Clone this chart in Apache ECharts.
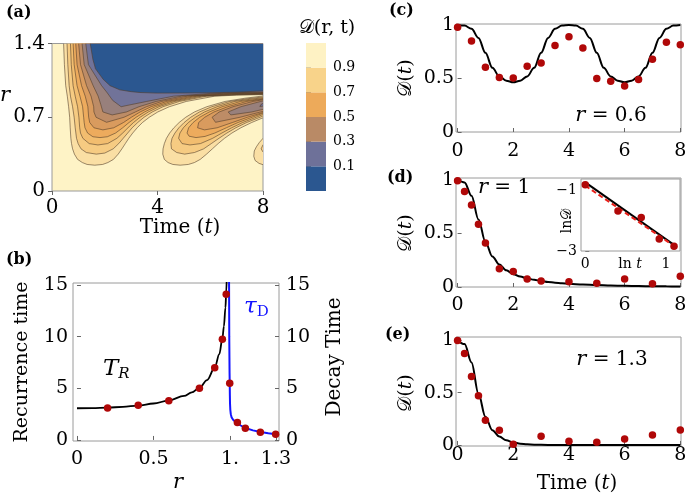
<!DOCTYPE html>
<html><head><meta charset="utf-8">
<script src="https://cdn.jsdelivr.net/npm/echarts@6/dist/echarts.min.js"></script>
<style>html,body{margin:0;padding:0;background:#fff}#c{width:685px;height:500px}</style>
</head><body><div id="c"></div>
<script>
// ---------------- DATA ----------------
// (a) contour plot D(r,t): contour lines, as [t, r] points
const contourLevels = [0.9, 0.8, 0.7, 0.6, 0.5, 0.4, 0.3, 0.2, 0.1];
const bandColors = ['#FADFA4', '#F6CB82', '#F2BD6F', '#EDAB5D', '#D99B5E', '#BD8C66', '#98807C', '#717399', '#2B5790'];
const plotBackground = '#FEF3C6';
// lobe 1 (joined to the decay region at large r): from top edge, down, around, then to the right edge
const lobe1_09 = [[0.44,1.4],[0.47,1.2],[0.52,1.0],[0.58,0.9],[0.63,0.8],[0.67,0.7],[0.69,0.6],[0.715,0.5],[0.74,0.45],[0.78,0.4],[0.85,0.35],[0.97,0.3],[1.15,0.27],[1.33,0.252],[1.62,0.245],[1.92,0.252],[2.12,0.27],[2.33,0.3],[2.51,0.35],[2.65,0.4],[2.78,0.45],[2.91,0.5],[3.06,0.55],[3.23,0.6],[3.43,0.65],[3.69,0.7],[4.01,0.75],[4.45,0.8],[5.09,0.85],[6.17,0.9],[7.0,0.91],[8,0.915]];
const lobe1_08 = [[0.57,1.4],[0.60,1.2],[0.65,1.0],[0.70,0.9],[0.78,0.8],[0.84,0.7],[0.88,0.6],[0.93,0.5],[0.99,0.45],[1.10,0.4],[1.3,0.365],[1.68,0.35],[2.0,0.36],[2.32,0.4],[2.53,0.45],[2.70,0.5],[2.87,0.55],[3.04,0.6],[3.25,0.65],[3.49,0.7],[3.80,0.75],[4.21,0.8],[4.83,0.85],[5.86,0.9],[7.0,0.913],[8,0.918]];
const lobe1_07 = [[0.70,1.4],[0.73,1.2],[0.80,1.0],[0.88,0.9],[0.97,0.8],[1.02,0.7],[1.05,0.6],[1.08,0.55],[1.17,0.5],[1.41,0.45],[1.74,0.437],[2.11,0.45],[2.46,0.5],[2.68,0.55],[2.88,0.6],[3.09,0.65],[3.34,0.7],[3.65,0.75],[4.06,0.8],[4.66,0.85],[5.67,0.9],[6.9,0.915],[8,0.921]];
const lobe1_06 = [[0.80,1.4],[0.84,1.2],[0.95,1.0],[1.06,0.9],[1.16,0.8],[1.2,0.7],[1.22,0.65],[1.25,0.6],[1.35,0.55],[1.55,0.515],[1.82,0.507],[2.1,0.515],[2.41,0.55],[2.68,0.6],[2.92,0.65],[3.19,0.7],[3.51,0.75],[3.92,0.8],[4.51,0.85],[5.49,0.9],[6.8,0.918],[8,0.924]];
const lobe1_05 = [[0.90,1.4],[0.95,1.2],[1.12,1.0],[1.26,0.9],[1.36,0.8],[1.39,0.7],[1.43,0.65],[1.59,0.6],[1.93,0.58],[2.34,0.6],[2.71,0.65],[3.01,0.7],[3.34,0.75],[3.76,0.8],[4.35,0.85],[5.33,0.9],[6.7,0.92],[8,0.927]];
const lobe1_04 = [[1.01,1.4],[1.08,1.2],[1.31,1.0],[1.48,0.9],[1.58,0.8],[1.59,0.75],[1.67,0.7],[2.07,0.652],[2.73,0.7],[3.16,0.75],[3.58,0.8],[4.16,0.85],[5.13,0.9],[6.6,0.923],[8,0.93]];
const lobe1_03 = [[1.14,1.4],[1.22,1.2],[1.56,1.0],[1.75,0.9],[1.85,0.82],[1.93,0.75],[2.28,0.722],[2.82,0.75],[3.30,0.8],[3.95,0.85],[4.91,0.9],[6.5,0.928],[8,0.935]];
const lobe1_02 = [[1.28,1.4],[1.38,1.2],[1.88,1.0],[2.1,0.93],[2.3,0.86],[2.62,0.80],[3.0,0.82],[3.59,0.85],[4.61,0.9],[6.0,0.926],[8,0.94]];
const lobe1_01 = [[1.45,1.4],[1.55,1.25],[1.65,1.16],[1.94,1.06],[2.2,1.0],[2.57,0.96],[3.0,0.943],[3.33,0.935],[3.96,0.929],[5.0,0.93],[5.86,0.932],[7.0,0.938],[8,0.95]];
// lobe 2 (second dip): from the right edge, around, back to the right edge
const lobe2_09 = [[8,0.695],[7.57,0.65],[7.16,0.6],[6.82,0.55],[6.54,0.5],[6.30,0.45],[6.08,0.4],[5.86,0.35],[5.62,0.3],[5.4,0.27],[5.17,0.252],[4.86,0.245],[4.58,0.252],[4.4,0.27],[4.26,0.3],[4.20,0.35],[4.21,0.4],[4.26,0.45],[4.34,0.5],[4.46,0.55],[4.62,0.6],[4.82,0.65],[5.07,0.7],[5.40,0.75],[5.87,0.8],[6.56,0.85],[7.3,0.88],[8,0.902]];
const lobe2_08 = [[8,0.712],[7.89,0.7],[7.38,0.65],[6.97,0.6],[6.63,0.55],[6.33,0.5],[6.04,0.45],[5.75,0.4],[5.4,0.365],[5.03,0.35],[4.73,0.365],[4.53,0.4],[4.51,0.45],[4.55,0.5],[4.66,0.55],[4.81,0.6],[5.01,0.65],[5.26,0.7],[5.59,0.75],[6.06,0.8],[6.74,0.85],[7.4,0.875],[8,0.893]];
const lobe2_07 = [[8,0.726],[7.74,0.7],[7.23,0.65],[6.81,0.6],[6.44,0.55],[6.09,0.5],[5.63,0.45],[5.23,0.437],[4.93,0.45],[4.80,0.5],[4.85,0.55],[4.98,0.6],[5.17,0.65],[5.44,0.7],[5.78,0.75],[6.26,0.8],[6.93,0.85],[7.5,0.87],[8,0.885]];
const lobe2_06 = [[8,0.738],[7.59,0.7],[7.05,0.65],[6.61,0.6],[6.17,0.55],[5.8,0.518],[5.46,0.507],[5.2,0.52],[5.12,0.55],[5.18,0.6],[5.35,0.65],[5.60,0.7],[5.96,0.75],[6.45,0.8],[7.15,0.85],[8,0.877]];
const lobe2_05 = [[8,0.745],[7.41,0.7],[6.84,0.65],[6.26,0.6],[5.78,0.58],[5.52,0.6],[5.56,0.65],[5.79,0.7],[6.14,0.75],[6.66,0.8],[7.38,0.85],[8,0.872]];
const lobe2_04 = [[8,0.756],[7.91,0.75],[7.13,0.7],[6.2,0.652],[6.07,0.7],[6.34,0.75],[6.86,0.8],[7.62,0.85],[8,0.866]];
const lobe2_03 = [[8,0.775],[7.57,0.75],[6.78,0.722],[6.68,0.75],[7.16,0.8],[7.91,0.85],[8,0.855]];
const lobe2_02 = [[8,0.806],[7.88,0.802],[7.92,0.82],[8,0.832]];
// lobe 3 (third dip, cut by the right edge)
const lobe3_09 = [[8,0.25],[7.85,0.262],[7.7,0.29],[7.65,0.33],[7.67,0.38],[7.75,0.42],[7.86,0.46],[8,0.5]];
const lobe3_08 = [[8,0.37],[7.93,0.4],[8,0.44]];
// colour bar
const colorbarBounds = [-0.1, 0.1, 0.3, 0.5, 0.7, 0.9, 1.1];
const colorbarColors = ['#2B5790', '#6E7199', '#B98A66', '#EDAA5A', '#F8D38A', '#FEF2C4'];
const colorbarTicks = [0.1, 0.3, 0.5, 0.7, 0.9];

// (b) recurrence time T_R and decay time tau_D versus r
const rCurveTR = [0, 0.1, 0.2, 0.3, 0.4, 0.5, 0.6, 0.7, 0.75, 0.8, 0.85, 0.9, 0.93, 0.95, 0.96, 0.97, 0.975, 0.98];
const curveTR  = [3.07, 3.09, 3.13, 3.2, 3.33, 3.53, 3.82, 4.27, 4.6, 5.05, 5.8, 7.0, 8.3, 9.8, 11.0, 12.8, 14.2, 16.5];
const rDotsTR  = [0.2, 0.4, 0.6, 0.8, 0.9, 0.95, 0.975];
const dotsTR   = [3.1, 3.35, 3.8, 5.0, 7.0, 9.75, 14.1];
const rCurveTau = [0.9935, 0.995, 0.997, 0.998, 0.999, 1.0, 1.002, 1.005, 1.01, 1.02, 1.03, 1.04, 1.05, 1.07, 1.1, 1.15, 1.2, 1.25, 1.3];
const curveTau  = [16, 10, 6.5, 5.5, 4.3, 3.5, 2.9, 2.5, 2.2, 1.95, 1.8, 1.68, 1.58, 1.4, 1.15, 0.93, 0.77, 0.65, 0.56];
const rDotsTau  = [0.998, 1.048, 1.1, 1.198, 1.298];
const dotsTau   = [5.5, 1.68, 1.13, 0.75, 0.55];
const bXTicks = [0, 0.5, 1, 1.3];
const bXLabels = ['0', '0.5', '1.', '1.3'];
const bYTicks = [0, 5, 10, 15];

// (c) r = 0.6
const tCurveC = [0,0.25,0.5,0.75,1,1.25,1.5,1.75,2,2.25,2.5,2.75,3,3.25,3.5,3.75,4,4.25,4.5,4.75,5,5.25,5.5,5.75,6,6.25,6.5,6.75,7,7.25,7.5,7.75,8];
const curveC  = [1.0,0.995,0.965,0.88,0.74,0.6,0.52,0.48,0.465,0.48,0.52,0.6,0.74,0.88,0.965,0.995,1.0,0.995,0.965,0.88,0.74,0.6,0.52,0.48,0.465,0.48,0.52,0.6,0.74,0.88,0.965,0.995,1.0];
const tDotsC  = [0,0.5,1,1.5,2,2.5,3,3.5,4,4.5,5,5.5,6,6.5,7,7.5,8];
const dotsC   = [0.98,0.85,0.605,0.51,0.505,0.615,0.645,0.81,0.89,0.785,0.5,0.475,0.43,0.49,0.68,0.84,0.815];

// (d) r = 1
const tCurveD = [0,0.25,0.5,0.75,1,1.25,1.5,1.75,2,2.25,2.5,2.75,3,3.25,3.5,3.75,4,4.5,5,5.5,6,6.5,7,7.5,8];
const curveD  = [1.0,0.975,0.85,0.63,0.42,0.285,0.21,0.155,0.12,0.097,0.08,0.067,0.056,0.047,0.04,0.035,0.03,0.023,0.018,0.014,0.011,0.009,0.007,0.006,0.005];
const tDotsD  = [0,0.25,0.5,0.75,1,1.5,2,2.5,3,4,5,6,7,8];
const dotsD   = [0.99,0.89,0.765,0.585,0.41,0.17,0.145,0.075,0.055,0.05,0.035,0.075,0.03,0.1];
// (d) inset: ln D versus ln t
const lnTInset = [0, 0.405, 0.693, 0.916, 1.099];
const lnDInset = [-0.81, -1.68, -1.89, -2.6, -2.84];
const fitBlack = [[0, -0.73], [1.12, -2.84]];
const fitRed   = [[0, -0.84], [1.12, -2.87]];

// (e) r = 1.3
const tCurveE = [0,0.25,0.5,0.75,1,1.25,1.5,1.75,2,2.25,2.5,2.75,3,3.5,4,4.5,5,5.5,6,6.5,7,7.5,8];
const curveE  = [1.0,0.965,0.79,0.49,0.27,0.14,0.08,0.045,0.025,0.012,0.006,0.003,0.001,0,0,0,0,0,0,0,0,0,0];
const tDotsE  = [0,0.25,0.5,0.75,1,1.5,2,3,4,5,6,7,8];
const dotsE   = [1.0,0.875,0.655,0.47,0.237,0.141,0.007,0.083,0.035,0.026,0.058,0.096,0.144];

const timeTicks = [0, 2, 4, 6, 8];
const dTicks = [0, 0.5, 1];
const dLabels = ['0', '0.5', '1'];

// ---------------- CHART ----------------
const FONT = 'DejaVu Serif';
const DOT = '#B00808';
const FRAME = '#9a9a9a';

const contourShapes = [];
const byLevel = [
  [lobe1_09, lobe2_09, lobe3_09], [lobe1_08, lobe2_08, lobe3_08], [lobe1_07, lobe2_07], [lobe1_06, lobe2_06],
  [lobe1_05, lobe2_05], [lobe1_04, lobe2_04], [lobe1_03, lobe2_03], [lobe1_02, lobe2_02], [lobe1_01]
];
byLevel.forEach((list, li) => {
  list.forEach((pts, k) => {
    contourShapes.push({ level: contourLevels[li], color: bandColors[li], pts: pts, close: k === 0 ? [[8, 1.4]] : [] });
  });
});

function pairs(xs, ys) { return xs.map((x, i) => [x, ys[i]]); }
function labelFmt(ticks, labels) {
  return function (v) {
    const i = ticks.findIndex(t => Math.abs(t - v) < 1e-6);
    return i >= 0 ? labels[i] : '';
  };
}
function axis(type, gridIndex, min, max, ticks, labels, o) {
  o = o || {};
  return {
    type: 'value', gridIndex: gridIndex, min: min, max: max,
    position: o.position,
    show: o.show !== false,
    axisLine: { show: false },
    splitLine: { show: false },
    axisTick: { show: o.tick !== false, inside: o.inside !== false, length: o.tickLen || 4, customValues: ticks, lineStyle: { color: '#666', width: 1 } },
    axisLabel: {
      show: true, customValues: ticks, color: '#000', fontFamily: FONT,
      fontSize: o.fontSize || 19, margin: o.margin == null ? 6 : o.margin,
      formatter: labelFmt(ticks, labels)
    }
  };
}

const grids = [
  { left: 52, top: 43.5, width: 211, height: 147.5, show: true, borderColor: FRAME, borderWidth: 1, backgroundColor: plotBackground },
  { left: 306, top: 43, width: 20, height: 148 },
  { left: 73, top: 283, width: 206, height: 158, show: true, borderColor: FRAME, borderWidth: 1 },
  { left: 456, top: 24, width: 225, height: 108, show: true, borderColor: FRAME, borderWidth: 1 },
  { left: 456, top: 178, width: 225, height: 109, show: true, borderColor: FRAME, borderWidth: 1 },
  { left: 581, top: 179, width: 99, height: 72, show: true, borderColor: FRAME, borderWidth: 1, backgroundColor: '#fff', z: 5 },
  { left: 456, top: 337, width: 225, height: 109, show: true, borderColor: FRAME, borderWidth: 1 }
].map(g => Object.assign({ outerBoundsMode: 'none', containLabel: false }, g));

const xAxes = [
  axis('x', 0, 0, 8, [0, 4, 8], ['0', '4', '8'], { inside: false, fontSize: 20, margin: 7 }),
  { type: 'value', gridIndex: 1, min: 0, max: 1, show: false },
  axis('x', 2, -0.026, 1.32, bXTicks, bXLabels, { margin: 9 }),
  axis('x', 3, -0.057, 8.025, timeTicks, timeTicks.map(String), { margin: 10 }),
  axis('x', 4, -0.057, 8.025, timeTicks, timeTicks.map(String), { margin: 9 }),
  axis('x', 5, -0.053, 1.173, [0, 1], ['0', '1'], { fontSize: 14, margin: 6 }),
  axis('x', 6, -0.057, 8.025, timeTicks, timeTicks.map(String), { margin: 0 })
];
const yAxes = [
  axis('y', 0, 0, 1.4, [0, 0.7, 1.4], ['0', '0.7', '1.4'], { inside: false, fontSize: 20, margin: 7 }),
  axis('y', 1, -0.1, 1.1, colorbarTicks, colorbarTicks.map(v => v.toFixed(1)), { position: 'right', inside: false, tickLen: 5, fontSize: 14, margin: 7 }),
  axis('y', 2, -0.1, 15.19, bYTicks, bYTicks.map(String), { margin: 5 }),
  axis('y', 2, -0.1, 15.19, bYTicks, bYTicks.map(String), { position: 'right', margin: 7 }),
  axis('y', 3, 0, 1.01, dTicks, dLabels, { margin: 2 }),
  axis('y', 4, 0, 1.016, dTicks, dLabels, { margin: 2 }),
  axis('y', 5, -3, -0.62, [-1, -3], ['\u22121', '\u22123'], { fontSize: 14, margin: 4 }),
  axis('y', 6, -0.01, 1.033, dTicks, dLabels, { margin: 2 })
];

function lineS(xi, yi, data, color, width, extra) {
  return Object.assign({ type: 'line', xAxisIndex: xi, yAxisIndex: yi, data: data, showSymbol: false, symbol: 'none',
    smooth: 0.35, smoothMonotone: 'x', lineStyle: { color: color, width: width }, z: 3, silent: true, clip: true }, extra || {});
}
function dotS(xi, yi, data, extra) {
  return Object.assign({ type: 'scatter', xAxisIndex: xi, yAxisIndex: yi, data: data, symbol: 'circle', symbolSize: 7.5,
    itemStyle: { color: DOT, opacity: 1 }, z: 4, silent: true }, extra || {});
}

const series = [
  { type: 'custom', xAxisIndex: 0, yAxisIndex: 0, clip: true, silent: true, z: 2,
    data: contourShapes.map(s => [0, s.level]),
    renderItem: function (params, api) {
      const s = contourShapes[params.dataIndex];
      const pts = s.pts.concat(s.close).map(p => api.coord(p));
      return { type: 'polygon', shape: { points: pts }, style: { fill: s.color, stroke: null } };
    } },
  { type: 'custom', xAxisIndex: 0, yAxisIndex: 0, clip: true, silent: true, z: 3,
    data: contourShapes.map(s => [0, s.level]),
    renderItem: function (params, api) {
      const s = contourShapes[params.dataIndex];
      const pts = s.pts.map(p => api.coord(p));
      return { type: 'polyline', shape: { points: pts }, style: { stroke: 'rgba(80,60,40,0.72)', lineWidth: 0.8, fill: null } };
    } },
  { type: 'custom', xAxisIndex: 1, yAxisIndex: 1, silent: true,
    data: colorbarColors.map((c, i) => [0, colorbarBounds[i]]),
    renderItem: function (params, api) {
      const i = params.dataIndex;
      const p1 = api.coord([0, colorbarBounds[i + 1]]);
      const p2 = api.coord([1, colorbarBounds[i]]);
      return { type: 'rect', shape: { x: p1[0], y: p1[1], width: p2[0] - p1[0], height: p2[1] - p1[1] }, style: { fill: colorbarColors[i] } };
    } },
  lineS(2, 2, pairs(rCurveTR, curveTR), '#000', 1.8),
  lineS(2, 2, pairs(rCurveTau, curveTau), '#1414ff', 2, { smooth: false }),
  dotS(2, 2, pairs(rDotsTR, dotsTR)),
  dotS(2, 2, pairs(rDotsTau, dotsTau)),
  lineS(3, 4, pairs(tCurveC, curveC), '#000', 2),
  dotS(3, 4, pairs(tDotsC, dotsC)),
  lineS(4, 5, pairs(tCurveD, curveD), '#000', 2),
  dotS(4, 5, pairs(tDotsD, dotsD)),
  lineS(5, 6, fitBlack, '#000', 2, { smooth: false, z: 6 }),
  lineS(5, 6, fitRed, '#E8211B', 2, { smooth: false, z: 6, lineStyle: { color: '#E8211B', width: 2, type: [5, 3] } }),
  dotS(5, 6, pairs(lnTInset, lnDInset), { z: 7 }),
  lineS(6, 7, pairs(tCurveE, curveE), '#000', 2),
  dotS(6, 7, pairs(tDotsE, dotsE))
];

function T(x, y, text, o) {
  o = o || {};
  return {
    type: 'text', x: x, y: y, rotation: o.rot || 0, z: 100, silent: true,
    style: {
      text: text, fill: o.color || '#000', fontFamily: FONT, fontSize: o.size || 19,
      fontStyle: o.italic ? 'italic' : 'normal', fontWeight: o.bold ? 'bold' : 'normal',
      align: o.align || 'center', verticalAlign: o.va || 'middle', rich: o.rich
    }
  };
}
const itRich = (size) => ({ i: { fontStyle: 'italic', fontFamily: FONT, fontSize: size } });
const graphics = [
  T(6, 13, '(a)', { bold: true, size: 16, align: 'left' }),
  T(6, 260, '(b)', { bold: true, size: 16, align: 'left' }),
  T(389, 11, '(c)', { bold: true, size: 16, align: 'left' }),
  T(387, 178, '(d)', { bold: true, size: 16, align: 'left' }),
  T(385, 335, '(e)', { bold: true, size: 16, align: 'left' }),
  T(327, 28, '\uD835\uDC9F(r, t)', { size: 19 }),
  T(5, 96, 'r', { italic: true, size: 21 }),
  T(180, 228, 'Time ({i|t})', { size: 20, rich: itRich(20) }),
  T(22, 362, 'Recurrence time', { size: 19, rot: Math.PI / 2 }),
  T(335, 357, 'Decay Time', { size: 20, rot: Math.PI / 2 }),
  T(178, 483, 'r', { italic: true, size: 21 }),
  T(103, 369, '{t|T}{s|R}', { align: 'left', rich: { t: { fontStyle: 'italic', fontFamily: FONT, fontSize: 23 }, s: { fontStyle: 'italic', fontFamily: FONT, fontSize: 15, verticalAlign: 'bottom', padding: [10, 0, 0, 0] } } }),
  T(244, 307, '{t|\u03C4}{s|D}', { align: 'left', color: '#1414ff', rich: { t: { fontStyle: 'italic', fontFamily: FONT, fontSize: 23, color: '#1414ff' }, s: { fontFamily: FONT, fontSize: 15, color: '#1414ff', padding: [10, 0, 0, 0] } } }),
  T(406, 78, '\uD835\uDC9F({i|t})', { rot: Math.PI / 2, rich: itRich(19) }),
  T(406, 233, '\uD835\uDC9F({i|t})', { rot: Math.PI / 2, rich: itRich(19) }),
  T(406, 393, '\uD835\uDC9F({i|t})', { rot: Math.PI / 2, rich: itRich(19) }),
  T(611, 116, '{i|r} = 0.6', { size: 20, rich: itRich(21) }),
  T(504, 188, '{i|r} = 1', { size: 20, rich: itRich(21) }),
  T(612, 360, '{i|r} = 1.3', { size: 20, rich: itRich(21) }),
  T(577, 484, 'Time ({i|t})', { size: 20, rich: itRich(20) }),
  T(567, 221, 'ln\uD835\uDC9F', { size: 14, rot: Math.PI / 2 }),
  T(630, 264, 'ln {i|t}', { size: 14, rich: itRich(14) })
];

const chart = echarts.init(document.getElementById('c'), null, { renderer: 'canvas', width: 685, height: 500 });
chart.setOption({
  animation: false,
  backgroundColor: '#fff',
  textStyle: { fontFamily: FONT },
  grid: grids,
  xAxis: xAxes,
  yAxis: yAxes,
  series: series,
  graphic: graphics
});
</script>
</body></html>
